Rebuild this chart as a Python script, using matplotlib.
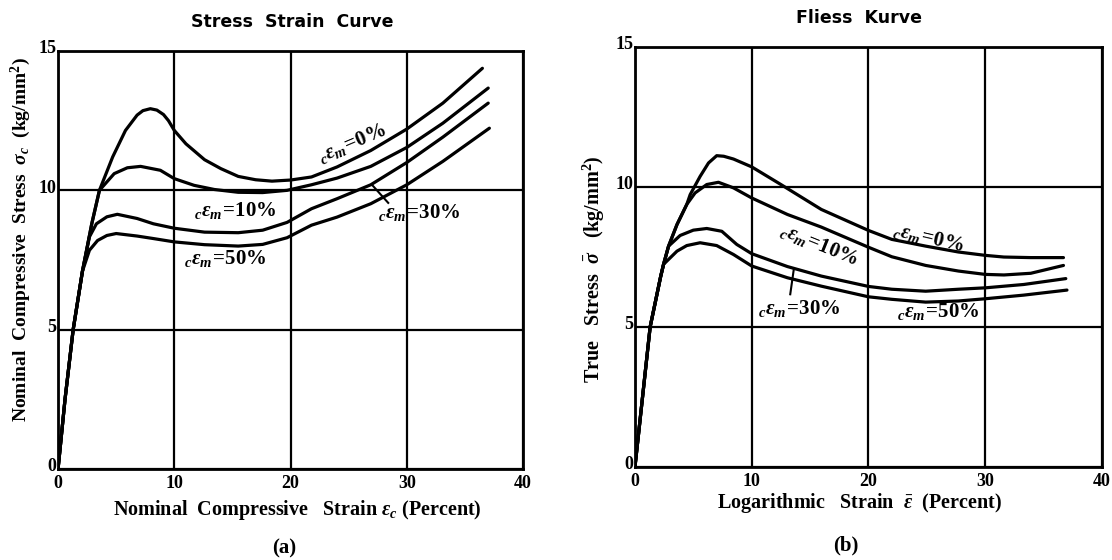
import numpy as np
import matplotlib
matplotlib.use("Agg")
import matplotlib.pyplot as plt
from matplotlib.transforms import ScaledTranslation

# ---- data ----
# (a) nominal stress-strain, strain in percent, stress in kg/mm2
a_x0 = [0, 0.6, 1.3, 2.1, 2.9, 3.56, 4.7, 5.8, 6.8, 7.3, 7.94, 8.5, 9.07, 9.5, 10.0, 11.0, 12.6, 14.0,
        15.5, 17.0, 18.4, 20.0, 21.8, 24.0, 26.9, 30.0, 33.1, 36.5]
a_y0 = [0, 2.5, 5.0, 7.1, 8.8, 10.0, 11.2, 12.15, 12.7, 12.86, 12.93, 12.88, 12.72, 12.5, 12.15, 11.67,
        11.1, 10.78, 10.5, 10.38, 10.33, 10.37, 10.48, 10.84, 11.43, 12.2, 13.13, 14.38]
a_x10 = [0, 0.6, 1.3, 2.1, 2.9, 3.56, 4.83, 5.96, 7.1, 8.8, 10.0, 11.7, 13.45, 15.5, 17.6, 19.7,
         21.8, 24.0, 26.9, 30.0, 33.1, 37.0]
a_y10 = [0, 2.5, 5.0, 7.1, 8.8, 10.0, 10.6, 10.81, 10.86, 10.72, 10.42, 10.18, 10.03, 9.93, 9.92, 10.0,
         10.2, 10.44, 10.86, 11.54, 12.41, 13.67]
a_x30 = [0, 0.6, 1.3, 2.1, 2.7, 3.3, 4.2, 5.1, 6.8, 8.2, 10.0, 12.6, 15.5, 17.6, 19.7,
         21.8, 24.0, 26.9, 30.0, 33.1, 37.0]
a_y30 = [0, 2.5, 5.0, 7.1, 8.33, 8.8, 9.05, 9.14, 8.99, 8.8, 8.64, 8.5, 8.48, 8.57, 8.85,
         9.34, 9.7, 10.2, 11.0, 11.91, 13.13]
a_x50 = [0, 0.6, 1.3, 2.1, 2.7, 3.4, 4.2, 5.0, 6.8, 8.2, 10.0, 12.6, 15.5, 17.6, 19.7,
         21.8, 24.0, 26.9, 30.0, 33.1, 37.1]
a_y50 = [0, 2.5, 5.0, 7.1, 7.85, 8.2, 8.38, 8.45, 8.36, 8.27, 8.15, 8.05, 8.0, 8.06, 8.3,
         8.75, 9.04, 9.52, 10.2, 11.04, 12.23]

# (b) flow curve, logarithmic strain in percent, true stress
b_x0 = [0, 1.3, 2.2, 2.45, 2.88, 3.6, 4.44, 4.73, 5.58, 6.3, 7.0, 7.6, 8.44, 10.0, 12.5, 15.96, 20.0,
        22.0, 24.9, 27.7, 30.0, 31.6, 33.9, 36.7]
b_y0 = [0, 5.0, 6.8, 7.24, 7.89, 8.66, 9.38, 9.73, 10.38, 10.86, 11.12, 11.1, 11.0, 10.72, 10.09, 9.2,
        8.45, 8.13, 7.89, 7.68, 7.56, 7.5, 7.48, 7.48]
b_x10 = [0, 1.3, 2.2, 2.45, 2.88, 3.6, 4.44, 5.15, 6.15, 7.15, 8.44, 10.0, 13.06, 15.96, 20.0,
         22.0, 24.9, 27.7, 30.0, 31.6, 33.9, 36.7]
b_y10 = [0, 5.0, 6.8, 7.24, 7.89, 8.66, 9.38, 9.79, 10.09, 10.17, 9.97, 9.61, 9.02, 8.57, 7.85,
         7.51, 7.2, 7.0, 6.88, 6.86, 6.92, 7.2]
b_x30 = [0, 1.3, 2.2, 2.45, 2.88, 3.87, 5.0, 6.15, 7.44, 8.72, 10.0, 13.06, 15.96, 20.0,
         22.0, 24.9, 27.7, 30.0, 33.3, 36.9]
b_y30 = [0, 5.0, 6.8, 7.24, 7.89, 8.27, 8.46, 8.52, 8.42, 7.95, 7.62, 7.16, 6.82, 6.45,
         6.35, 6.28, 6.35, 6.4, 6.52, 6.73]
b_x50 = [0, 1.3, 2.2, 2.45, 3.6, 4.44, 5.58, 7.0, 8.44, 10.0, 13.06, 15.96, 20.0,
         22.0, 24.9, 27.7, 30.0, 33.3, 37.0]
b_y50 = [0, 5.0, 6.8, 7.24, 7.71, 7.91, 8.01, 7.91, 7.59, 7.18, 6.76, 6.46, 6.08,
         5.99, 5.89, 5.93, 6.01, 6.14, 6.32]

x_ticks = [0, 10, 20, 30, 40]
y_ticks = [0, 5, 10, 15]

plt.rcParams['font.family'] = ['Liberation Serif', 'DejaVu Serif']
plt.rcParams['font.weight'] = 'bold'
plt.rcParams['mathtext.fontset'] = 'custom'
plt.rcParams['mathtext.rm'] = 'Liberation Serif:bold'
plt.rcParams['mathtext.it'] = 'Liberation Serif:italic:bold'
plt.rcParams['mathtext.bf'] = 'Liberation Serif:bold'

fig = plt.figure(figsize=(11.12, 5.6), dpi=100)
ax1 = fig.add_axes([0.0522, 0.1625, 0.4182, 0.7464])
ax2 = fig.add_axes([0.571, 0.166, 0.42, 0.75])


def setup(ax):
    ax.set_xlim(0, 40)
    ax.set_ylim(0, 15)
    ax.set_xticks(x_ticks)
    ax.set_yticks(y_ticks)
    ax.tick_params(length=0, labelsize=13)
    ax.tick_params(axis='x', pad=4)
    ax.tick_params(axis='y', pad=1)
    # y numbers sit a little high, as in the print
    lift = ScaledTranslation(0, 3 / 72, fig.dpi_scale_trans)
    for lab in ax.get_yticklabels():
        lab.set_transform(lab.get_transform() + lift)
    for lab in ax.get_xticklabels() + ax.get_yticklabels():
        lab.set_fontweight('bold')
    for s in ax.spines.values():
        s.set_linewidth(2)
    ax.grid(True, color='black', lw=1.6)
    ax.set_axisbelow(True)


setup(ax1)
setup(ax2)

lw = 2.3
for xs, ys in [(a_x0, a_y0), (a_x10, a_y10), (a_x30, a_y30), (a_x50, a_y50)]:
    ax1.plot(xs, ys, color='black', lw=lw, solid_capstyle='round', solid_joinstyle='round')
for xs, ys in [(b_x0, b_y0), (b_x10, b_y10), (b_x30, b_y30), (b_x50, b_y50)]:
    ax2.plot(xs, ys, color='black', lw=lw, solid_capstyle='round', solid_joinstyle='round')

lab_kw = dict(fontsize=15, ha='center', va='center', color='black')
ax1.text(25.3, 11.7, r"$_{c}\varepsilon_{m}\!=\!0\%$", rotation=23, **lab_kw)
ax1.text(15.2, 9.28, r"$_{c}\varepsilon_{m}\!=\!10\%$", **lab_kw)
ax1.text(14.4, 7.55, r"$_{c}\varepsilon_{m}\!=\!50\%$", **lab_kw)
ax1.text(31.1, 9.2, r"$_{c}\varepsilon_{m}\!=\!30\%$", **lab_kw)
ax1.plot([27.0, 28.4], [10.2, 9.55], color='black', lw=1.5)

ax2.text(25.1, 8.2, r"$_{c}\varepsilon_{m}\!=\!0\%$", rotation=-13, **lab_kw)
ax2.text(15.8, 7.95, r"$_{c}\varepsilon_{m}\!=\!10\%$", rotation=-22, **lab_kw)
ax2.text(14.1, 5.67, r"$_{c}\varepsilon_{m}\!=\!30\%$", **lab_kw)
ax2.text(26.0, 5.56, r"$_{c}\varepsilon_{m}\!=\!50\%$", **lab_kw)
ax2.plot([13.6, 13.3], [7.05, 6.17], color='black', lw=1.5)

ax1.set_xlabel(r"Nominal  Compressive   Strain $\varepsilon_c$ (Percent)", fontsize=14.5, fontweight='bold')
ax1.xaxis.set_label_coords(0.514, -0.069)
ax1.set_ylabel(r"Nominal  Compressive  Stress  $\sigma_c$  (kg/mm$^2$)", fontsize=14, fontweight='bold')
ax1.yaxis.set_label_coords(-0.054, 0.548)

ax2.set_xlabel(r"Logarithmic   Strain  $\bar{\varepsilon}$  (Percent)", fontsize=14.5, fontweight='bold')
ax2.xaxis.set_label_coords(0.48, -0.057)
ax2.set_ylabel(r"True   Stress  $\bar{\sigma}$   (kg/mm$^2$)", fontsize=14.5, fontweight='bold')
ax2.yaxis.set_label_coords(-0.06, 0.47)

title_kw = dict(fontsize=12.5, fontweight='bold', ha='center', va='center',
                family=['DejaVu Sans'])
ax1.text(0.503, 1.069, "Stress  Strain  Curve", transform=ax1.transAxes, **title_kw)
ax2.text(0.48, 1.07, "Fliess  Kurve", transform=ax2.transAxes, **title_kw)

fig.text(0.256, 0.021, "(a)", fontsize=15, ha='center', va='center', fontweight='bold')
fig.text(0.761, 0.026, "(b)", fontsize=15, ha='center', va='center', fontweight='bold')

fig.savefig("out.png", dpi=100)
